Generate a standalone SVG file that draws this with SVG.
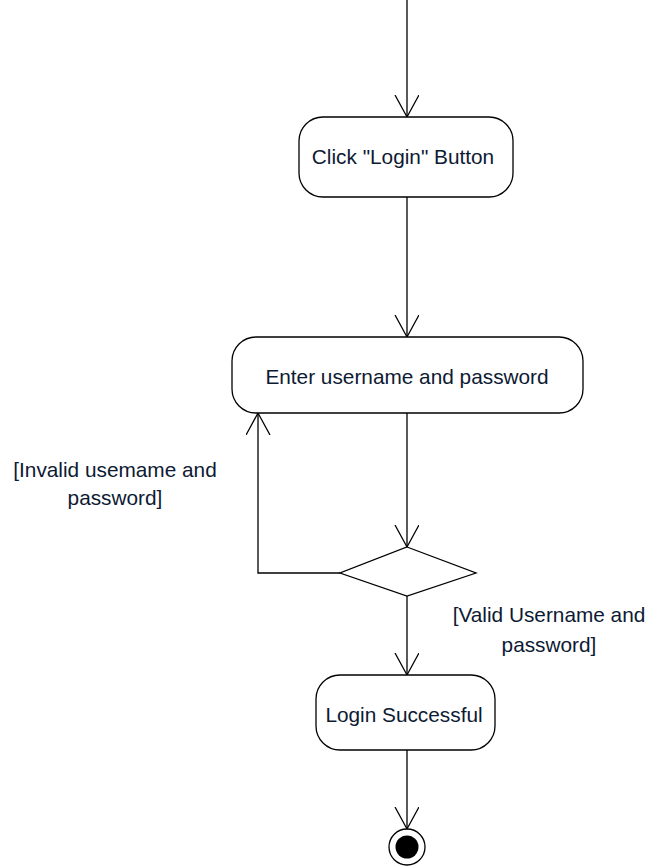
<svg xmlns="http://www.w3.org/2000/svg" width="651" height="867" viewBox="0 0 651 867">
  <style>
    .node { fill: #ffffff; stroke: #000000; stroke-width: 1.3; }
    .edge { fill: none; stroke: #000000; stroke-width: 1.3; }
    .label { font-family: "Liberation Sans", Arial, sans-serif; font-size: 20.8px; fill: #0d1a33; }
  </style>
  <defs>
    <marker id="open-arrow" markerWidth="26" markerHeight="26" refX="22" refY="12" orient="auto" markerUnits="userSpaceOnUse">
      <path d="M0,0 L22,12 L0,24" fill="none" stroke="#000000" stroke-width="1.3"/>
    </marker>
  </defs>

  <rect width="651" height="867" fill="#ffffff"/>

  <g id="connectors">
    <line class="edge" x1="407" y1="0" x2="407" y2="117" marker-end="url(#open-arrow)"/>
    <line class="edge" x1="407" y1="197" x2="407" y2="337" marker-end="url(#open-arrow)"/>
    <line class="edge" x1="407" y1="413" x2="407" y2="547" marker-end="url(#open-arrow)"/>
    <polyline class="edge" points="340,573 258,573 258,413" marker-end="url(#open-arrow)"/>
    <line class="edge" x1="407" y1="596" x2="407" y2="675" marker-end="url(#open-arrow)"/>
    <line class="edge" x1="407" y1="750" x2="407" y2="829" marker-end="url(#open-arrow)"/>
    <text class="label" x="115" y="477" text-anchor="middle">[Invalid usemame and</text>
    <text class="label" x="115" y="505" text-anchor="middle">password]</text>
    <text class="label" x="549" y="622" text-anchor="middle">[Valid Username and</text>
    <text class="label" x="549" y="652" text-anchor="middle">password]</text>
  </g>

  <g id="click-login">
    <rect class="node" x="299" y="117" width="214" height="80" rx="24" ry="24"/>
    <text class="label" x="403" y="164" text-anchor="middle">Click "Login" Button</text>
  </g>

  <g id="enter-credentials">
    <rect class="node" x="232" y="337" width="351" height="76" rx="24" ry="24"/>
    <text class="label" x="407" y="384" text-anchor="middle">Enter username and password</text>
  </g>

  <g id="check-credentials">
    <polygon class="node" points="407,547 476,573 407,596 340,573"/>
  </g>

  <g id="login-successful">
    <rect class="node" x="316" y="675" width="179" height="75" rx="24" ry="24"/>
    <text class="label" x="404" y="722" text-anchor="middle">Login Successful</text>
  </g>

  <g id="final">
    <circle cx="407" cy="847" r="18" fill="#ffffff" stroke="#000000" stroke-width="1.3"/>
    <circle cx="407" cy="847" r="11.5" fill="#000000"/>
  </g>
</svg>
